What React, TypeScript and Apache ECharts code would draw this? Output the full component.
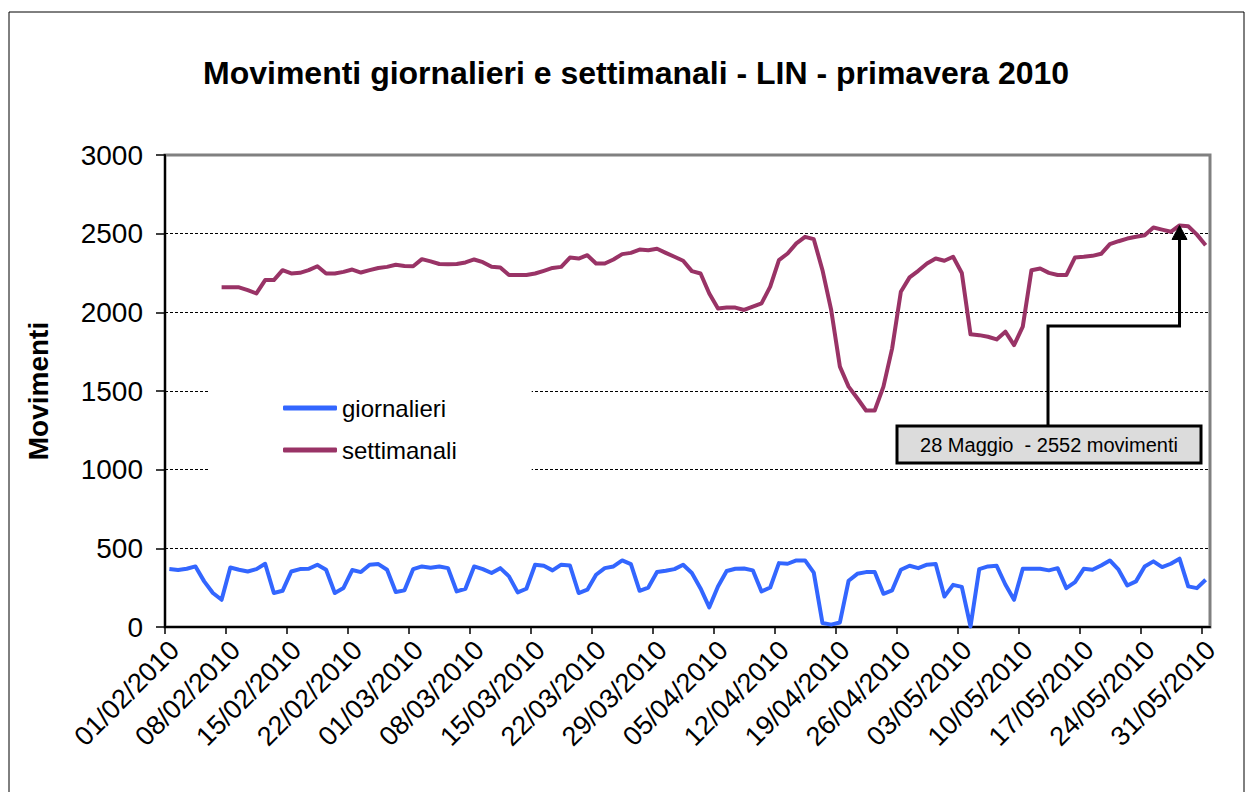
import React, { useEffect, useRef } from "react";
import * as echarts from "echarts";

const TITLE = "Movimenti giornalieri e settimanali - LIN - primavera 2010";
const Y_NAME = "Movimenti";
const SERIES_NAMES = ["giornalieri", "settimanali"];

// Tick labels every 7 days (01/02/2010 ... 31/05/2010)
const tickLabels = [
  "01/02/2010", "08/02/2010", "15/02/2010", "22/02/2010", "01/03/2010",
  "08/03/2010", "15/03/2010", "22/03/2010", "29/03/2010", "05/04/2010",
  "12/04/2010", "19/04/2010", "26/04/2010", "03/05/2010", "10/05/2010",
  "17/05/2010", "24/05/2010", "31/05/2010",
];
const DAYS_IN_RANGE = 120; // 01/02/2010 .. 31/05/2010
const DAYS_PER_TICK = 7;

// Daily movements, one per day from 01/02/2010
const giornalieri = [
  368, 362, 370, 385, 290, 216, 173, // 01-07 Feb
  378, 364, 353, 368, 402, 216, 230, // 08-14 Feb
  353, 368, 370, 396, 364, 216, 248, // 15-21 Feb
  362, 349, 396, 400, 364, 222, 233, // 22-28 Feb
  368, 385, 377, 385, 374, 226, 243, // 01-07 Mar
  385, 368, 343, 374, 322, 220, 243, // 08-14 Mar
  396, 389, 360, 396, 391, 216, 237, // 15-21 Mar
  332, 374, 385, 423, 400, 230, 251, // 22-28 Mar
  349, 357, 368, 396, 343, 245, 125, // 29 Mar-04 Apr
  258, 356, 370, 372, 360, 226, 251, // 05-11 Apr
  406, 402, 423, 423, 346, 25, 15,   // 12-18 Apr
  29, 294, 338, 349, 349, 211, 233,  // 19-25 Apr
  364, 389, 374, 396, 400, 194, 268, // 26 Apr-02 May
  255, 3, 368, 385, 389, 270, 173,   // 03-09 May
  370, 370, 370, 360, 374, 247, 285, // 10-16 May
  370, 364, 391, 423, 364, 264, 290, // 17-23 May
  385, 417, 381, 402, 434, 258, 247, // 24-30 May
  300,                               // 31 May
];

// Weekly (7-day) movements, starting on 07/02/2010
const settimanali = [
  null, null, null, null, null, null, 2159,
  2159, 2159, 2141, 2120, 2205, 2205, 2268,
  2247, 2251, 2268, 2293, 2247, 2247, 2257,
  2272, 2253, 2268, 2282, 2289, 2302, 2295,
  2293, 2338, 2324, 2307, 2305, 2307, 2317,
  2336, 2319, 2289, 2285, 2237, 2237, 2237,
  2247, 2264, 2282, 2289, 2348, 2342, 2363,
  2310, 2310, 2336, 2370, 2378, 2399, 2395,
  2404, 2378, 2353, 2328, 2262, 2247, 2120,
  2025, 2030, 2030, 2015, 2036, 2057, 2163,
  2332, 2374, 2438, 2480, 2465, 2268, 2015,
  1655, 1528, 1454, 1376, 1376, 1528, 1771,
  2131, 2222, 2264, 2310, 2342, 2328, 2353,
  2250, 1860, 1855, 1845, 1828, 1877, 1792,
  1909, 2268, 2279, 2251, 2237, 2237, 2349,
  2353, 2359, 2372, 2433, 2452, 2469, 2480,
  2490, 2539, 2526, 2512, 2552, 2547, 2494,
  2427,
];

const ANNOTATION_DAY = 116; // 28 Maggio
const ANNOTATION_VALUE = 2552;
const ANNOTATION_TEXT = "28 Maggio  - 2552 movimenti";

const FONT = "'Liberation Sans', Arial, sans-serif";
const BLUE = "#3366FF";
const PURPLE = "#993366";

export default function App() {
  const ref = useRef<HTMLDivElement | null>(null);

  useEffect(() => {
    if (!ref.current) return;
    const chart = echarts.init(ref.current, null, { renderer: "svg" });

    const dailyData = giornalieri.map((v, i) => [i + 0.5, v]);
    const weeklyData = settimanali
      .map((v, i) => (v == null ? null : [i + 0.5, v]))
      .filter((d) => d !== null);

    chart.setOption({
      animation: false,
      backgroundColor: "#ffffff",
      textStyle: { fontFamily: FONT },
      title: {
        text: TITLE,
        left: 203,
        top: 57,
        padding: 0,
        textStyle: {
          fontFamily: FONT,
          fontSize: 32,
          fontWeight: "bold",
          color: "#000",
        },
      },
      grid: {
        left: 165,
        right: 39,
        top: 155,
        bottom: 165,
        show: true,
        borderColor: "#808080",
        borderWidth: 3,
        backgroundColor: "transparent",
      },
      legend: {
        data: SERIES_NAMES,
        orient: "vertical",
        left: 210,
        top: 380,
        padding: [16, 75, 13, 73],
        backgroundColor: "#ffffff",
        icon: "roundRect",
        itemWidth: 54,
        itemHeight: 5,
        itemGap: 18,
        textStyle: {
          fontFamily: FONT,
          fontSize: 24,
          lineHeight: 24,
          color: "#000",
        },
      },
      xAxis: {
        type: "value",
        min: 0,
        max: DAYS_IN_RANGE,
        interval: DAYS_PER_TICK,
        axisLine: { show: true, onZero: false, lineStyle: { color: "#000", width: 2 } },
        axisTick: { show: true, length: 7, lineStyle: { color: "#000", width: 1.5 } },
        splitLine: { show: false },
        axisLabel: {
          rotate: 45,
          margin: 9,
          verticalAlign: "top",
          fontFamily: FONT,
          fontSize: 27,
          color: "#000",
          showMaxLabel: false,
          formatter: (v: number) => {
            const k = Math.round(v / DAYS_PER_TICK);
            if (Math.abs(v - k * DAYS_PER_TICK) > 1e-6) return "";
            return tickLabels[k] ?? "";
          },
        },
      },
      yAxis: {
        type: "value",
        min: 0,
        max: 3000,
        interval: 500,
        name: Y_NAME,
        nameLocation: "middle",
        nameRotate: 90,
        nameGap: 113,
        nameTextStyle: {
          fontFamily: FONT,
          fontSize: 28,
          fontWeight: "bold",
          color: "#000",
        },
        axisLine: { show: true, lineStyle: { color: "#000", width: 2 } },
        axisTick: { show: true, length: 9, lineStyle: { color: "#000", width: 1.5 } },
        axisLabel: {
          margin: 22,
          fontFamily: FONT,
          fontSize: 28,
          color: "#000",
          formatter: (v: number) => String(v),
        },
        splitLine: {
          show: true,
          showMinLine: false,
          showMaxLine: false,
          lineStyle: { color: "#000", width: 1, type: [3, 2] },
        },
      },
      series: [
        {
          name: SERIES_NAMES[0],
          type: "line",
          data: dailyData,
          showSymbol: false,
          symbol: "none",
          color: BLUE,
          lineStyle: { color: BLUE, width: 4, join: "round" },
          z: 3,
        },
        {
          name: SERIES_NAMES[1],
          type: "line",
          data: weeklyData,
          showSymbol: false,
          symbol: "none",
          color: PURPLE,
          lineStyle: { color: PURPLE, width: 4, join: "round" },
          z: 3,
        },
      ],
    });

    const tip = chart.convertToPixel({ gridIndex: 0 }, [
      ANNOTATION_DAY + 0.5,
      ANNOTATION_VALUE,
    ]) as number[];
    const tx = tip[0];
    const ty = tip[1];
    const boxX = 897;
    const boxY = 426;
    const boxW = 304;
    const boxH = 37;
    const elbowX = 1048;
    const elbowY = 326;

    chart.setOption({
      graphic: [
        {
          type: "rect",
          silent: true,
          shape: { x: 9, y: 12, width: 1235, height: 800 },
          style: { fill: "none", stroke: "#000", lineWidth: 1 },
          z: 0,
        },
        {
          type: "polyline",
          silent: true,
          shape: {
            points: [
              [elbowX, boxY],
              [elbowX, elbowY],
              [tx, elbowY],
              [tx, ty + 12],
            ],
          },
          style: { fill: "none", stroke: "#000", lineWidth: 3 },
          z: 10,
        },
        {
          type: "polygon",
          silent: true,
          shape: {
            points: [
              [tx, ty],
              [tx - 7.5, ty + 14],
              [tx + 7.5, ty + 14],
            ],
          },
          style: { fill: "#000", stroke: "#000", lineWidth: 1 },
          z: 10,
        },
        {
          type: "rect",
          silent: true,
          shape: { x: boxX, y: boxY, width: boxW, height: boxH },
          style: { fill: "#dcdcdc", stroke: "#000", lineWidth: 3 },
          z: 10,
        },
        {
          type: "text",
          silent: true,
          x: boxX + boxW / 2,
          y: boxY + boxH / 2,
          style: {
            text: ANNOTATION_TEXT,
            fontFamily: FONT,
            fontSize: 20,
            fill: "#000",
            align: "center",
            verticalAlign: "middle",
          },
          z: 11,
        },
      ],
    });

    return () => {
      chart.dispose();
    };
  }, []);

  return (
    <div
      ref={ref}
      style={{ position: "fixed", left: 0, top: 0, width: 1249, height: 792 }}
    />
  );
}
